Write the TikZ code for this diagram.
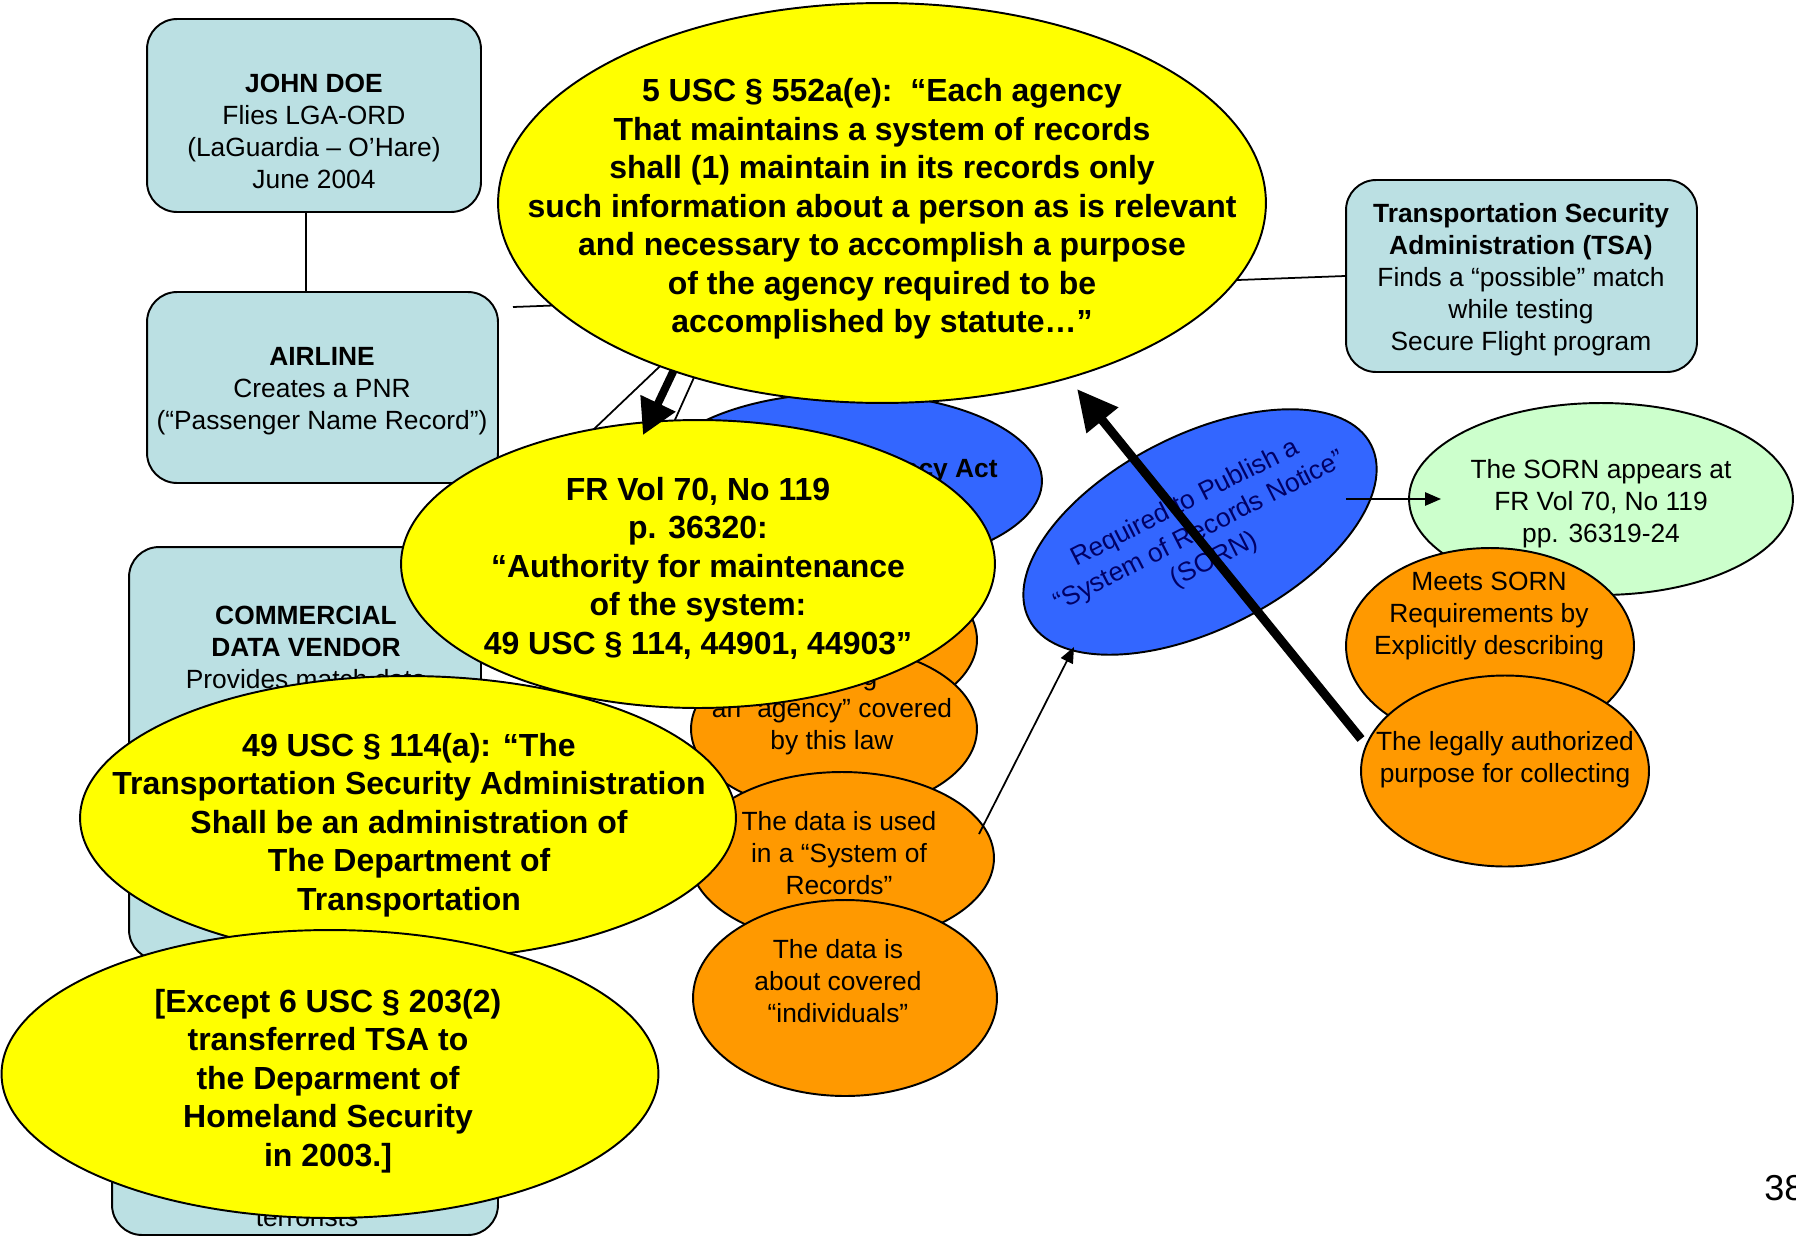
\documentclass[tikz,border=0pt]{standalone}
\usepackage{fontspec}
\setmainfont{Liberation Sans}
\usetikzlibrary{shapes.geometric,arrows.meta}
\definecolor{cBox}{RGB}{187,224,227}
\definecolor{cYel}{RGB}{255,255,0}
\definecolor{cBlu}{RGB}{51,102,255}
\definecolor{cOrg}{RGB}{255,153,0}
\definecolor{cGrn}{RGB}{204,255,204}
\definecolor{cNavy}{RGB}{0,0,102}
\newcommand\FBig{\fontsize{18.2pt}{21.9pt}\selectfont\bfseries}
\newcommand\FSm{\fontsize{15pt}{18.2pt}\selectfont}
\begin{document}
\begin{tikzpicture}[x=0.02cm,y=-0.02cm,
  box/.style={draw, line width=1.1pt, fill=cBox, rounded corners=0.6cm, inner sep=0pt},
  ell/.style={draw, ellipse, line width=1.1pt, inner sep=0pt},
  yel/.style={ell, fill=cYel},
  orng/.style={ell, fill=cOrg},
  bigtxt/.style={align=center, inner sep=0pt, font=\FBig},
  smtxt/.style={align=center, inner sep=0pt, font=\FSm},
  conn/.style={line width=1pt},
  thinarrow/.style={line width=1pt, -{Triangle[length=9pt,width=7.5pt]}},
]
\useasboundingbox (0,0) rectangle (1796,1241);

% ---------- boxes ----------
\node[box, minimum width=6.68cm, minimum height=3.86cm] (jd) at (314,115.5) {};
\node[smtxt] (jdt) at (314,131) {\textbf{JOHN DOE}\\Flies LGA-ORD\\(LaGuardia – O’Hare)\\June 2004};
\node[box, minimum width=7.02cm, minimum height=3.82cm] (air) at (322.5,387.5) {};
\node[smtxt] (airt) at (322,391) {\textbf{AIRLINE}\\Creates a PNR\\(“Passenger Name Record”)};
\node[box, minimum width=7.04cm, minimum height=8.26cm] (com) at (305,753.5) {};
\node[smtxt] (comt) at (306,647) {\textbf{COMMERCIAL}\\\textbf{DATA VENDOR}\\Provides match data};
\node[box, minimum width=7.72cm, minimum height=4.6cm] (bot) at (305,1120) {};
\node[smtxt, anchor=base] (bott) at (307,1226) {terrorists};
\node[box, minimum width=7.02cm, minimum height=3.84cm] (tsa) at (1521.5,276) {};
\node[smtxt] (tsat) at (1521,280) {\textbf{Transportation Security}\\\textbf{Administration (TSA)}\\Finds a “possible” match\\while testing\\Secure Flight program};

% ---------- plain connectors ----------
\draw[conn] ([xshift=-0.16cm]jd.south) -- ([xshift=-0.16cm]jd.south |- air.north);
\coordinate (l1) at (513,307);
\draw[conn] (l1) -- (tsa.west);
\coordinate (d1a) at (720,309);
\coordinate (d1b) at (530,490);
\draw[conn] (d1a) -- (d1b);
\coordinate (d2a) at (705,353);
\coordinate (d2b) at (665,442);
\draw[conn] (d2a) -- (d2b);

% ---------- Privacy Act ----------
\node[ell, fill=cBlu, minimum width=7.8cm, minimum height=3.52cm] (pa) at (847,481) {};
\node[smtxt, anchor=east, font=\FSm\bfseries] (pat) at (998,471) {Privacy Act};

% ---------- orange stack ----------
\node[orng, minimum width=5.72cm, minimum height=3.32cm] (o1) at (834,640) {};
\node[orng, minimum width=5.72cm, minimum height=3.32cm] (o2) at (834,729) {};
\node[smtxt] (o2t) at (832,711) {is being\\an “agency” covered\\by this law};
\node[orng, minimum width=6.08cm, minimum height=3.44cm] (o3) at (842,858) {};
\node[smtxt] (o3t) at (839,853) {The data is used\\in a “System of\\Records”};
\node[orng, minimum width=6.08cm, minimum height=3.92cm] (o4) at (845,998) {};
\node[smtxt] (o4t) at (838,981) {The data is\\about covered\\“individuals”};

% ---------- FR ellipse ----------
\node[yel, minimum width=11.88cm, minimum height=5.76cm] (fr) at (698,564) {};
\node[bigtxt] (frt) at (698,568) {FR Vol 70, No 119\\p. 36320:\\“Authority for maintenance\\of the system:\\49 USC § 114, 44901, 44903”};

\coordinate (ta1) at (691,334);
\coordinate (ta2) at (643,435);
\draw[line width=4.5pt, -{Triangle[length=20pt,width=21pt]}] (ta1) -- (ta2);

% ---------- top ellipse ----------
\node[yel, minimum width=15.36cm, minimum height=8cm] (top) at (882,203) {};
\node[bigtxt] (topt) at (882,209) {5 USC § 552a(e):\ \ “Each agency\\That maintains a system of records\\shall (1) maintain in its records only\\such information about a person as is relevant\\and necessary to accomplish a purpose\\of the agency required to be\\accomplished by statute…”};

% ---------- left yellow ellipses ----------
\node[yel, minimum width=13.12cm, minimum height=5.68cm] (usc) at (408,818) {};
\node[bigtxt] (usct) at (409,825) {49 USC § 114(a): “The\\Transportation Security Administration\\Shall be an administration of\\The Department of\\Transportation};
\node[yel, minimum width=13.14cm, minimum height=5.76cm] (exc) at (330,1074) {};
\node[bigtxt] (exct) at (328,1081) {[Except 6 USC § 203(2)\\transferred TSA to\\the Deparment of\\Homeland Security\\in 2003.]};

% ---------- right side ----------
\node[ell, fill=cBlu, rotate=27, minimum width=7.68cm, minimum height=3.88cm] (sorn) at (1200,532) {};
\node[smtxt, rotate=27, text=cNavy] (sornt) at (1200,532) {Required to Publish a\\“System of Records Notice”\\(SORN)};
\node[ell, fill=cGrn, minimum width=7.68cm, minimum height=3.84cm] (grn) at (1601,499) {};
\node[smtxt] (grnt) at (1601,504) {The SORN appears at\\FR Vol 70, No 119\\pp. 36319-24};
\node[orng, minimum width=5.76cm, minimum height=3.92cm] (meets) at (1490,646) {};
\node[smtxt] (meetst) at (1489,616) {Meets SORN\\Requirements by\\Explicitly describing};
\node[orng, minimum width=5.76cm, minimum height=3.82cm] (legal) at (1505,771) {};
\node[smtxt] (legalt) at (1505,760) {The legally authorized\\purpose for collecting};

% ---------- arrows ----------
\coordinate (a1s) at (979,834);
\coordinate (a1e) at (1074,647);
\draw[thinarrow] (a1s) -- (a1e);
\coordinate (a2s) at (1346,499);
\coordinate (a2e) at (1441,499);
\draw[thinarrow] (a2s) -- (a2e);
\coordinate (bs) at (1361,739);
\coordinate (be) at (1077,389);
\draw[line width=5.1pt, -{Triangle[length=23pt,width=22pt]}] (bs) -- (be);

\node[anchor=west, inner sep=0pt, font=\fontsize{20.5pt}{24pt}\selectfont] (pg) at (1764,1188) {38};
\end{tikzpicture}
\end{document}
